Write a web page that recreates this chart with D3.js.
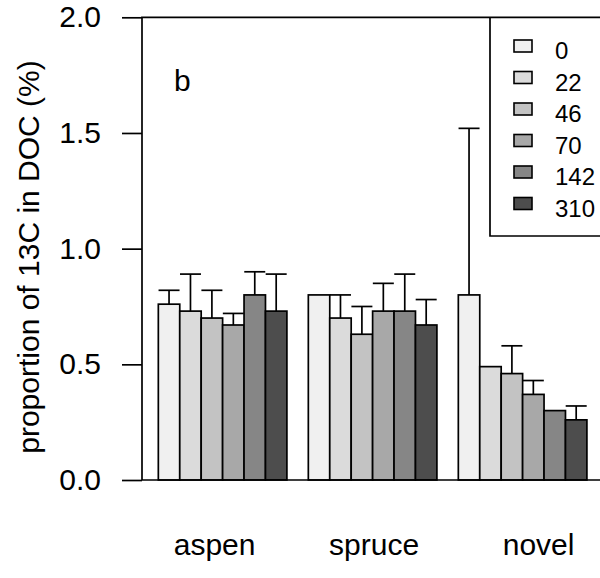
<!DOCTYPE html>
<html>
<head>
<meta charset="utf-8">
<script src="https://cdn.jsdelivr.net/npm/d3@7"></script>
<style>
  body { margin: 0; background: #fff; }
  svg text { font-family: "Liberation Sans", Arial, sans-serif; fill: #000; }
</style>
</head>
<body>
<svg id="chart" width="600" height="578"></svg>
<script>
(function() {
    'use strict';

    var groups = ["aspen", "spruce", "novel"];
    var series = ["0", "22", "46", "70", "142", "310"];
    var aspen = [0.76, 0.73, 0.70, 0.67, 0.80, 0.73];
    var spruce = [0.80, 0.70, 0.63, 0.73, 0.73, 0.67];
    var novel = [0.80, 0.49, 0.46, 0.37, 0.30, 0.26];
    var aspenErr = [0.06, 0.16, 0.12, 0.05, 0.10, 0.16];
    var spruceErr = [0, 0.10, 0.12, 0.12, 0.16, 0.11];
    var novelErr = [0.72, 0, 0.12, 0.06, 0, 0.06];
    var yTicks = [0, 0.5, 1.0, 1.5, 2.0];
    var greys = ["#f0f0f0", "#dbdbdb", "#c3c3c3", "#a8a8a8", "#868686", "#4d4d4d"];

    var means = [aspen, spruce, novel],
        errs = [aspenErr, spruceErr, novelErr];

    var svg = d3.select("#chart");

    // bar units: one empty bar width before each group (R barplot beside)
    var x = d3.scaleLinear().domain([0, 21]).range([136.9, 586.9]);
    var y = d3.scaleLinear().domain([0, 2]).range([480, 17.3]);
    var u = x(1) - x(0);

    var data = [];
    means.forEach(function(g, gi) {
        g.forEach(function(v, j) {
            data.push({ g: gi, j: j, v: v, e: errs[gi][j], k: 1 + gi * 7 + j });
        });
    });

    var bars = svg.append("g");
    bars.selectAll("rect")
        .data(data)
        .enter().append("rect")
        .attr("x", function(d) { return x(d.k); })
        .attr("y", function(d) { return y(d.v); })
        .attr("width", u)
        .attr("height", function(d) { return y(0) - y(d.v); })
        .attr("fill", function(d) { return greys[d.j]; })
        .attr("stroke", "#000")
        .attr("stroke-width", 1.7);

    var eb = svg.append("g").attr("stroke", "#000").attr("stroke-width", 1.7);
    data.filter(function(d) { return d.e > 0; }).forEach(function(d) {
        var cx = x(d.k + 0.5);
        eb.append("line")
            .attr("x1", cx).attr("x2", cx)
            .attr("y1", y(d.v)).attr("y2", y(d.v + d.e));
        eb.append("line")
            .attr("x1", cx - 10.5).attr("x2", cx + 10.5)
            .attr("y1", y(d.v + d.e)).attr("y2", y(d.v + d.e));
    });

    // box (right side runs off the page)
    svg.append("path")
        .attr("d", "M640," + y(2) + "H142V" + y(0) + "H640")
        .attr("fill", "none")
        .attr("stroke", "#000")
        .attr("stroke-width", 1.7);

    // y axis
    var yAxis = d3.axisLeft(y)
        .tickValues(yTicks)
        .tickSize(20)
        .tickPadding(21)
        .tickFormat(d3.format(".1f"));
    var ya = svg.append("g")
        .attr("transform", "translate(142,0)")
        .call(yAxis);
    ya.select(".domain").remove();
    ya.selectAll("line").attr("stroke-width", 1.7);
    ya.selectAll("text")
        .attr("font-size", 30)
        .style("font-family", "'Liberation Sans', Arial, sans-serif");

    svg.append("text")
        .attr("transform", "translate(39,257) rotate(-90)")
        .attr("text-anchor", "middle")
        .attr("font-size", 30)
        .text("proportion of 13C in DOC (%)");

    svg.append("text")
        .attr("x", 174)
        .attr("y", 91)
        .attr("font-size", 30)
        .text("b");

    // group labels
    var labelShift = [-8, 1.5, 16];
    svg.selectAll(".grp")
        .data(groups)
        .enter().append("text")
        .attr("class", "grp")
        .attr("x", function(d, i) { return x(1 + i * 7 + 3) + labelShift[i]; })
        .attr("y", 555)
        .attr("text-anchor", "middle")
        .attr("font-size", 30)
        .text(function(d) { return d; });

    // legend
    var leg = svg.append("g");
    leg.append("path")
        .attr("d", "M640,236H490V" + y(2))
        .attr("fill", "none")
        .attr("stroke", "#000")
        .attr("stroke-width", 1.7);
    var item = leg.selectAll(".item")
        .data(series)
        .enter().append("g")
        .attr("transform", function(d, i) { return "translate(0," + (46 + i * 31.5) + ")"; });
    item.append("rect")
        .attr("x", 514).attr("y", -6)
        .attr("width", 18).attr("height", 12)
        .attr("fill", function(d, i) { return greys[i]; })
        .attr("stroke", "#000")
        .attr("stroke-width", 1.6);
    item.append("text")
        .attr("x", 555)
        .attr("y", 5)
        .attr("dy", "0.35em")
        .attr("font-size", 24)
        .text(function(d) { return d; });
})();
</script>
</body>
</html>
